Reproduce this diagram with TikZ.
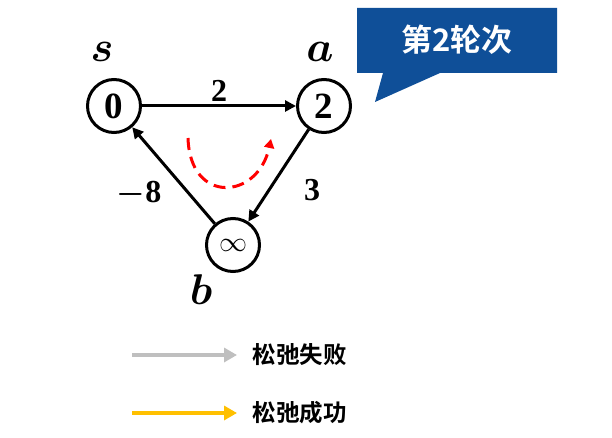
\RequirePackage{fix-cm}
\documentclass[tikz,border=0pt]{standalone}
\usepackage{amsmath,bm}
\usepackage{fontspec}
\usetikzlibrary{arrows.meta,positioning}
\newfontfamily\cjk{Noto Sans CJK SC}[BoldFont={* Bold}]
\newfontfamily\numfont{Liberation Serif}
\definecolor{EdgeBlack}{HTML}{000000}
\definecolor{TagBlue}{HTML}{0F4F98}
\definecolor{FailGray}{HTML}{BFBFBF}
\definecolor{OkGold}{HTML}{FFC000}
\definecolor{LoopRed}{HTML}{FF0000}
\begin{document}
\begin{tikzpicture}[x=1pt,y=-1pt,
    vert/.style={draw=EdgeBlack,circle,line width=3pt,minimum size=53pt,inner sep=0pt,
                 font=\fontsize{37}{37}\selectfont\numfont\bfseries},
    vlabel/.style={font=\fontsize{43}{43}\selectfont},
    wlabel/.style={font=\fontsize{32}{32}\selectfont\numfont\bfseries},
    edge/.style={->,line width=3pt,EdgeBlack},
    legarrow/.style={-{Triangle[length=13pt,width=14pt]},line width=3.5pt},
    legtext/.style={anchor=west,font=\fontsize{23.5}{23.5}\selectfont\cjk\bfseries},
    >={Triangle[length=11pt,width=11pt]}
  ]
  \useasboundingbox (0,0) rectangle (612,438);
  % graph
  \node[vert] (s) at (114,106) {0};
  \node[vert] (a) at (324,106) {2};
  \node[vert,font=\fontsize{28}{28}\selectfont] (b) at (233,245) {$\infty$};
  \node[vlabel] (slab) at (102,52)  {$\bm{s}$};
  \node[vlabel] (alab) at (320,52)  {$\bm{a}$};
  \node[vlabel] (blab) at (201,290) {$\bm{b}$};
  \draw[edge] (s) -- node[wlabel,above=0pt]{2} (a);
  \draw[edge] (a) -- (b);
  \draw[edge] (b) -- (s);
  \node[wlabel] (wab) at (312,190) {3};
  \node[wlabel] (wbs) at (139,194) {{\boldmath$-$}8};
  % relaxation order
  \coordinate (arcL) at (188,138);
  \coordinate (arcR) at (271,139);
  \draw[->,LoopRed,line width=3pt,dash pattern=on 12pt off 7pt,
        >={Triangle[length=9pt,width=10pt]}]
    (arcL) .. controls (190,205) and (258,200) .. (arcR);
  % round tag
  \fill[TagBlue] (357,8) -- (557,8) -- (557,73) -- (440,73) -- (375,102)
    -- (383,73) -- (357,73) -- cycle;
  \node[font=\fontsize{31}{31}\selectfont\cjk\bfseries,text=white] (tag) at (457,40) {第2轮次};
  % legend
  \coordinate (failL) at (132,355);
  \coordinate (failR) at (237,355);
  \coordinate (okL) at (132,413);
  \coordinate (okR) at (237,413);
  \draw[legarrow,FailGray] (failL) -- (failR);
  \draw[legarrow,OkGold] (okL) -- (okR);
  \node[legtext] (failtxt) at (249,355) {松弛失败};
  \node[legtext] (oktxt) at (249,413) {松弛成功};
\end{tikzpicture}
\end{document}
